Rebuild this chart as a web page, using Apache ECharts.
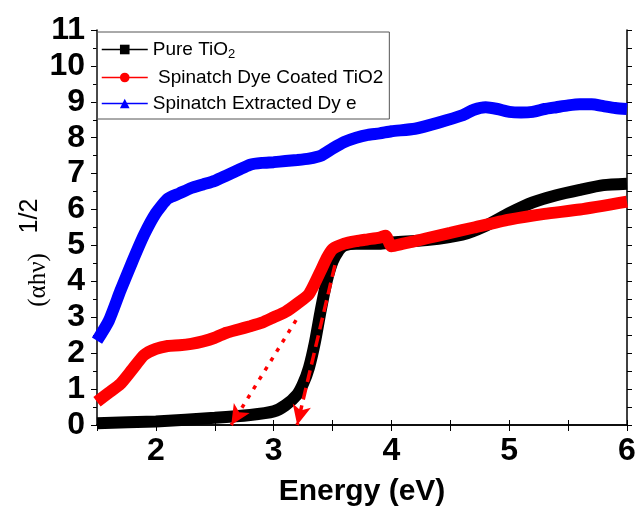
<!DOCTYPE html>
<html>
<head>
<meta charset="utf-8">
<script src="https://cdn.jsdelivr.net/npm/echarts@6/dist/echarts.min.js"></script>
<style>
  html, body { margin: 0; padding: 0; background: #fff; }
  #container { width: 639px; height: 512px; }
</style>
</head>
<body>
<div id="container"></div>
<script>
// series names as in legend
var seriesNames = ['Pure TiO2', ' Spinatch Dye Coated TiO2', 'Spinatch Extracted Dy e'];

// Pure TiO2
var pureX = [1.5, 2.0, 2.5, 2.8, 3.0, 3.1, 3.2, 3.25, 3.3, 3.35, 3.4, 3.45, 3.5, 3.55, 3.6, 3.7, 3.8, 3.9, 4.0, 4.3, 4.6, 4.8, 5.0, 5.2, 5.4, 5.6, 5.8, 6.0];
var pureY = [0.05, 0.1, 0.2, 0.28, 0.38, 0.55, 0.85, 1.15, 1.6, 2.3, 3.2, 4.0, 4.55, 4.85, 5.0, 5.05, 5.05, 5.05, 5.08, 5.15, 5.3, 5.55, 5.9, 6.2, 6.4, 6.55, 6.68, 6.72];

// dye coated TiO2
var coatX = [1.5, 1.6, 1.7, 1.8, 1.9, 2.0, 2.1, 2.2, 2.3, 2.4, 2.5, 2.6, 2.7, 2.8, 2.9, 3.0, 3.1, 3.2, 3.3, 3.4, 3.45, 3.5, 3.6, 3.7, 3.8, 3.9, 3.95, 4.0, 4.1, 4.2, 4.3, 4.5, 4.7, 5.0, 5.3, 5.6, 6.0];
var coatY = [0.65, 0.9, 1.15, 1.55, 1.95, 2.12, 2.2, 2.22, 2.26, 2.33, 2.43, 2.57, 2.66, 2.75, 2.85, 3.0, 3.15, 3.38, 3.65, 4.3, 4.65, 4.9, 5.05, 5.12, 5.17, 5.22, 5.27, 4.98, 5.05, 5.12, 5.2, 5.35, 5.5, 5.72, 5.88, 6.0, 6.22];

// extracted dye
var dyeX = [1.5, 1.6, 1.7, 1.8, 1.9, 2.0, 2.1, 2.2, 2.3, 2.4, 2.5, 2.6, 2.7, 2.8, 2.9, 3.0, 3.1, 3.2, 3.3, 3.4, 3.5, 3.6, 3.7, 3.8, 3.9, 4.0, 4.2, 4.4, 4.6, 4.7, 4.8, 4.9, 5.0, 5.1, 5.2, 5.3, 5.4, 5.5, 5.6, 5.7, 5.8, 5.9, 6.0];
var dyeY = [2.35, 2.9, 3.75, 4.55, 5.3, 5.9, 6.3, 6.45, 6.6, 6.7, 6.8, 6.95, 7.1, 7.25, 7.3, 7.32, 7.35, 7.38, 7.42, 7.5, 7.7, 7.88, 8.0, 8.08, 8.12, 8.18, 8.25, 8.42, 8.62, 8.78, 8.85, 8.8, 8.72, 8.7, 8.72, 8.8, 8.85, 8.9, 8.93, 8.93, 8.88, 8.83, 8.8];

// extrapolation arrows [start, end]
var dottedArrow = [[3.19, 2.92], [2.64, 0]];
var dashedArrow = [[3.52, 4.45], [3.2, 0]];

function pairs(xs, ys) {
    var out = [];
    for (var i = 0; i < xs.length; i++) {
        out.push([xs[i], ys[i]]);
    }
    return out;
}

var dom = document.getElementById('container');
var myChart = echarts.init(dom);
var axisColor = '#000';

var hiddenAxis = {
    axisLine: { show: true, lineStyle: { color: axisColor, width: 1.5 } },
    axisTick: { show: true, length: 5, lineStyle: { color: axisColor } },
    axisLabel: { show: false },
    splitLine: { show: false }
};

option = {
    animation: false,
    backgroundColor: '#fff',
    grid: { left: 97, right: 12, top: 30, bottom: 85 },
    // y axis title (αhν)^1/2
    graphic: [{
        type: 'text',
        x: 38,
        y: 280,
        rotation: Math.PI / 2,
        style: {
            text: '(αhν)',
            font: '25px "Liberation Serif"',
            fill: '#000',
            align: 'center',
            verticalAlign: 'middle'
        }
    }, {
        type: 'text',
        x: 30,
        y: 216,
        rotation: Math.PI / 2,
        style: {
            text: '1/2',
            font: '25px "Liberation Sans"',
            fill: '#000',
            align: 'center',
            verticalAlign: 'middle'
        }
    }],
    legend: {
        orient: 'vertical',
        left: 97,
        top: 32,
        data: seriesNames,
        itemWidth: 46,
        itemHeight: 12,
        itemGap: 7,
        padding: [8, 6, 6, 4],
        borderColor: '#555',
        borderWidth: 1,
        lineStyle: { width: 1.5 },
        textStyle: {
            fontFamily: 'Liberation Sans',
            fontSize: 19,
            color: '#000',
            rich: {
                n: { fontFamily: 'Liberation Sans', fontSize: 19, color: '#000' },
                s: { fontFamily: 'Liberation Sans', fontSize: 13, color: '#000', padding: [10, 0, 0, 0] }
            }
        },
        formatter: function (name) {
            if (name === 'Pure TiO2') {
                return '{n|Pure TiO}{s|2}';
            }
            return name;
        }
    },
    xAxis: [{
        type: 'value',
        min: 1.5,
        max: 6,
        interval: 0.5,
        name: 'Energy (eV)',
        nameLocation: 'middle',
        nameGap: 52,
        nameTextStyle: { fontFamily: 'Liberation Sans', fontWeight: 'bold', fontSize: 30, color: '#000' },
        axisLine: { lineStyle: { color: axisColor, width: 1.5 } },
        axisTick: { length: 6, lineStyle: { color: axisColor } },
        axisLabel: {
            margin: 10,
            fontFamily: 'Liberation Sans',
            fontWeight: 'bold',
            fontSize: 32,
            color: '#000',
            formatter: function (v) {
                return Math.abs(v - Math.round(v)) < 1e-6 ? String(Math.round(v)) : '';
            }
        },
        splitLine: { show: false }
    }, Object.assign({
        type: 'value', position: 'top', min: 1.5, max: 6, interval: 0.5
    }, hiddenAxis)],
    yAxis: [{
        type: 'value',
        min: 0,
        max: 11,
        interval: 1,
        axisLine: { show: true, lineStyle: { color: axisColor, width: 1.5 } },
        axisTick: { length: 6, lineStyle: { color: axisColor } },
        minorTick: { show: true, splitNumber: 2, length: 4, lineStyle: { color: axisColor } },
        axisLabel: {
            margin: 12,
            fontFamily: 'Liberation Sans',
            fontWeight: 'bold',
            fontSize: 32,
            color: '#000'
        },
        splitLine: { show: false },
        minorSplitLine: { show: false }
    }, Object.assign({
        type: 'value', position: 'right', min: 0, max: 11, interval: 0.5
    }, hiddenAxis)],
    series: [{
        name: seriesNames[0],
        type: 'line',
        data: pairs(pureX, pureY),
        symbol: 'rect',
        symbolSize: 10,
        showSymbol: false,
        smooth: 0.2,
        color: '#000',
        lineStyle: { width: 12, color: '#000' },
        z: 2
    }, {
        name: seriesNames[1],
        type: 'line',
        data: pairs(coatX, coatY),
        symbol: 'circle',
        symbolSize: 12,
        showSymbol: false,
        smooth: 0.2,
        clip: false,
        color: '#ff0000',
        lineStyle: { width: 12, color: '#ff0000' },
        z: 3,
        markLine: {
            silent: true,
            symbol: ['none', 'arrow'],
            symbolSize: [14, 20],
            label: { show: false },
            data: [
                [{ coord: dottedArrow[0], lineStyle: { type: [4, 7], width: 3.5, color: '#ff0000' } },
                 { coord: dottedArrow[1] }],
                [{ coord: dashedArrow[0], lineStyle: { type: [12, 6], width: 3.5, color: '#ff0000' } },
                 { coord: dashedArrow[1] }]
            ]
        }
    }, {
        name: seriesNames[2],
        type: 'line',
        data: pairs(dyeX, dyeY),
        symbol: 'triangle',
        symbolSize: 12,
        showSymbol: false,
        smooth: 0.2,
        color: '#0000ff',
        lineStyle: { width: 12, color: '#0000ff' },
        z: 2
    }]
};

if (option && typeof option === "object") {
    myChart.setOption(option, true);
}
</script>
</body>
</html>
